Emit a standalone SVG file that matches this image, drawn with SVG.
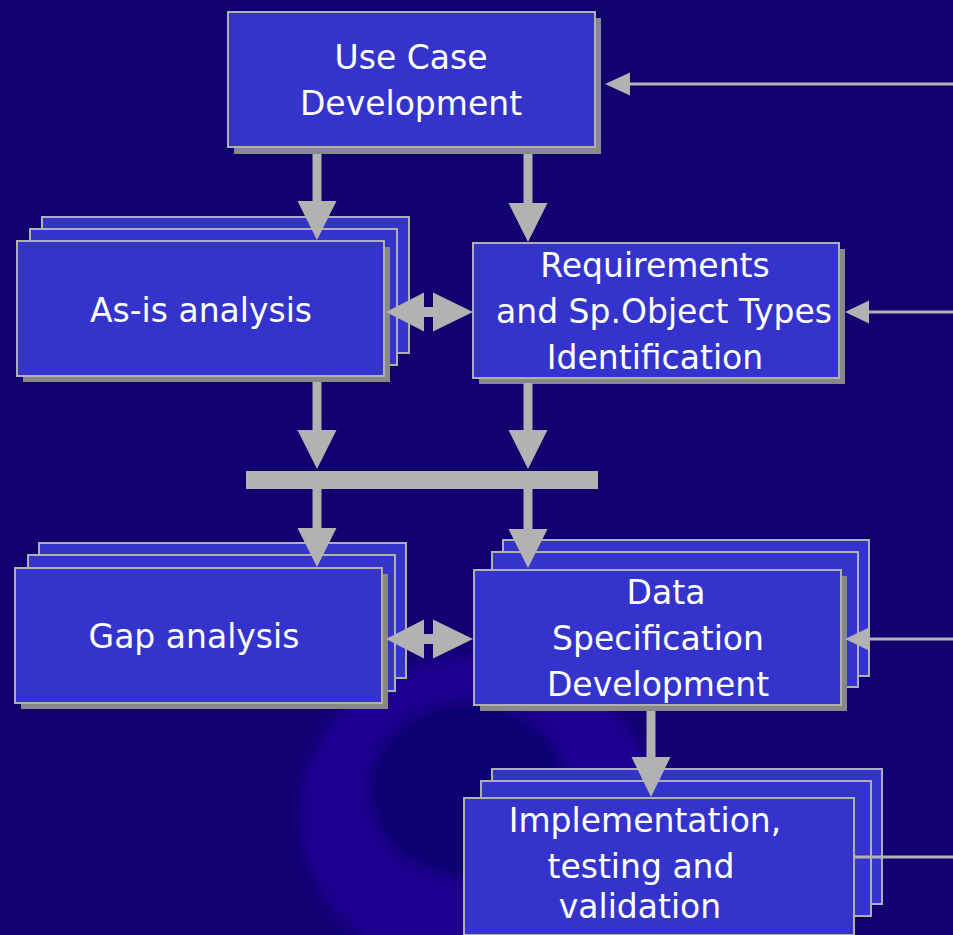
<svg xmlns="http://www.w3.org/2000/svg" width="953" height="935" viewBox="0 0 953 935">
<defs>
<style>
.box{fill:#3434CC;stroke:#B0B0B0;stroke-width:2}
.shd{fill:#888888}
.lbl{font-family:"DejaVu Sans",sans-serif;font-size:33px;fill:#FFFFFF;text-anchor:middle}
.arr{fill:#B2B2B2}
.thin{stroke:#B2B2B2;stroke-width:3;fill:none}
</style>
<filter id="blur" x="-30%" y="-30%" width="160%" height="160%"><feGaussianBlur stdDeviation="7"/></filter>
</defs>
<rect width="953" height="935" fill="#110070"/>
<g id="bg-swirl" filter="url(#blur)">
<ellipse cx="478" cy="815" rx="180" ry="160" fill="#1F0090"/>
<ellipse cx="468" cy="790" rx="98" ry="88" fill="#110070"/>
</g>

<g id="use-case">
<rect class="shd" x="234" y="18" width="367" height="136"/>
<rect class="box" x="228" y="12" width="367" height="135"/>
<text class="lbl" x="411" y="69">Use Case</text>
<text class="lbl" x="411" y="115">Development</text>
</g>

<g id="as-is">
<rect class="box" x="42" y="217" width="367" height="136"/>
<rect class="box" x="30" y="229" width="367" height="136"/>
<rect class="shd" x="23" y="247" width="367" height="135"/>
<rect class="box" x="17" y="241" width="367" height="135"/>
<text class="lbl" x="201" y="322">As-is analysis</text>
</g>

<g id="requirements">
<rect class="shd" x="479" y="249" width="366" height="135"/>
<rect class="box" x="473" y="243" width="366" height="135"/>
<text class="lbl" x="655" y="277">Requirements</text>
<text class="lbl" x="664" y="323">and Sp.Object Types</text>
<text class="lbl" x="655" y="369">Identification</text>
</g>

<g id="gap">
<rect class="box" x="39" y="543" width="367" height="135"/>
<rect class="box" x="28" y="555" width="367" height="136"/>
<rect class="shd" x="21" y="574" width="367" height="135"/>
<rect class="box" x="15" y="568" width="367" height="135"/>
<text class="lbl" x="194" y="648">Gap analysis</text>
</g>

<g id="data-spec">
<rect class="box" x="503" y="540" width="366" height="136"/>
<rect class="box" x="492" y="552" width="366" height="135"/>
<rect class="shd" x="480" y="576" width="367" height="135"/>
<rect class="box" x="474" y="570" width="367" height="135"/>
<text class="lbl" x="666" y="604">Data</text>
<text class="lbl" x="658" y="650">Specification</text>
<text class="lbl" x="658" y="696">Development</text>
</g>

<g id="implementation">
<rect class="box" x="492" y="769" width="390" height="135"/>
<rect class="box" x="481" y="781" width="390" height="135"/>
<rect class="box" x="464" y="798" width="390" height="137"/>
<text class="lbl" x="645" y="832">Implementation,</text>
<text class="lbl" x="641" y="878">testing and</text>
<text class="lbl" x="640" y="918">validation</text>
</g>

<g id="connectors">
<rect class="arr" x="246" y="471" width="352" height="18"/>
<rect class="arr" x="312.5" y="154" width="9" height="48"/>
<polygon class="arr" points="297.5,201 336.5,201 317,240"/>
<rect class="arr" x="523.5" y="154" width="9" height="50"/>
<polygon class="arr" points="508.5,203 547.5,203 528,242"/>
<rect class="arr" x="312.5" y="382" width="9" height="49"/>
<polygon class="arr" points="297.5,430 336.5,430 317,469"/>
<rect class="arr" x="523.5" y="383" width="9" height="48"/>
<polygon class="arr" points="508.5,430 547.5,430 528,469"/>
<rect class="arr" x="312.5" y="488" width="9" height="41"/>
<polygon class="arr" points="297.5,528 336.5,528 317,567"/>
<rect class="arr" x="523.5" y="488" width="9" height="42"/>
<polygon class="arr" points="508.5,529 547.5,529 528,568"/>
<rect class="arr" x="646.5" y="711" width="9" height="47"/>
<polygon class="arr" points="631.5,757 670.5,757 651,797"/>
<polygon class="arr" points="386,312 424,292.5 424,331.5"/>
<rect class="arr" x="423" y="307" width="11" height="10"/>
<polygon class="arr" points="473,312 433,292.5 433,331.5"/>
<polygon class="arr" points="386,639 424,619.5 424,658.5"/>
<rect class="arr" x="423" y="634" width="11" height="10"/>
<polygon class="arr" points="473,639 433,619.5 433,658.5"/>
<line class="thin" x1="628" y1="84" x2="953" y2="84"/>
<polygon class="arr" points="605,84 630,72.5 630,95.5"/>
<line class="thin" x1="867" y1="312" x2="953" y2="312"/>
<polygon class="arr" points="845,312 869,300.5 869,323.5"/>
<line class="thin" x1="867" y1="639" x2="953" y2="639"/>
<polygon class="arr" points="845,639 869,627.5 869,650.5"/>
<line class="thin" x1="855" y1="857" x2="953" y2="857"/>
</g>
</svg>
